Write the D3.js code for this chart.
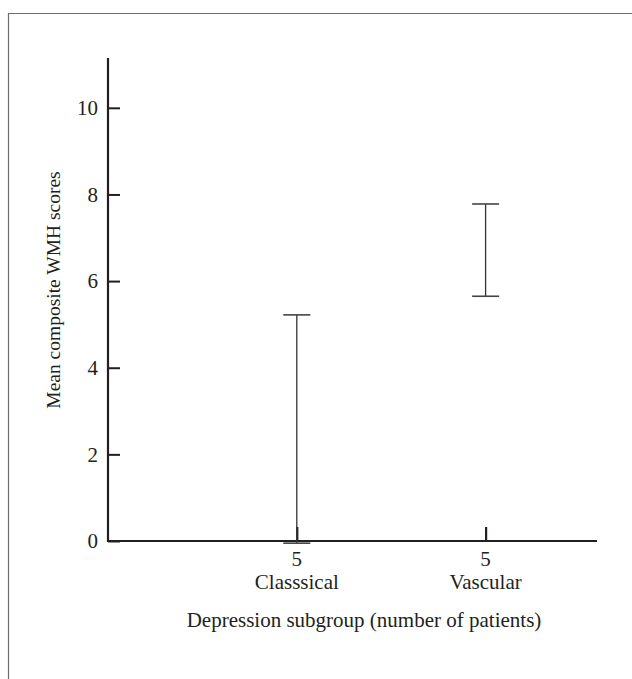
<!DOCTYPE html>
<html>
<head>
<meta charset="utf-8">
<script src="https://cdn.jsdelivr.net/npm/d3@7"></script>
<style>
  body { margin: 0; background: #fff; }
  text { font-family: "Liberation Serif", "DejaVu Serif", serif; fill: #231f20; }
</style>
</head>
<body>
<div id="chart"></div>
<script>
'use strict';

// Groups and their error bar ends
const groups = ["Classsical", "Vascular"];
const counts = ["5", "5"];
const lowerEnd = [-0.05, 5.65];
const upperEnd = [5.22, 7.78];
const yTicks = [0, 2, 4, 6, 8, 10];

const width = 632;
const height = 679;

const svg = d3.select("#chart").append("svg")
    .attr("width", width)
    .attr("height", height);

// frame round the figure (runs off the right and bottom)
svg.append("path")
    .attr("d", "M8.5,690V13.5H640")
    .attr("fill", "none")
    .attr("stroke", "#6d6d6d")
    .attr("stroke-width", 1.2);

const x = d3.scaleLinear().domain([0, 2.59]).range([108, 597]);
const y = d3.scaleLinear().domain([0, 11.15]).range([541, 58]);

const axisColor = "#231f20";

// y axis, ticks pointing inward
const yAxis = svg.append("g")
    .attr("transform", "translate(108,0)")
    .call(d3.axisRight(y).tickValues(yTicks).tickSize(12).tickFormat(""));
yAxis.select(".domain").remove();
yAxis.selectAll(".tick line").attr("stroke", axisColor).attr("stroke-width", 2);

svg.append("line")
    .attr("x1", 108).attr("x2", 108)
    .attr("y1", y.range()[1]).attr("y2", y(0) + 1)
    .attr("stroke", axisColor).attr("stroke-width", 2.2);

svg.selectAll(".ylab")
  .data(yTicks)
  .join("text")
    .attr("class", "ylab")
    .attr("x", 98)
    .attr("y", d => y(d))
    .attr("dy", "0.35em")
    .attr("text-anchor", "end")
    .style("font-size", "21px")
    .text(d => d);

// x axis
svg.append("line")
    .attr("x1", 107).attr("x2", x.range()[1])
    .attr("y1", y(0)).attr("y2", y(0))
    .attr("stroke", axisColor).attr("stroke-width", 2.2);

const xAxis = svg.append("g")
    .attr("transform", `translate(0,${y(0)})`)
    .call(d3.axisTop(x).tickValues([1, 2]).tickSize(14).tickFormat(""));
xAxis.select(".domain").remove();
xAxis.selectAll(".tick line").attr("stroke", axisColor).attr("stroke-width", 2.2);

// error bars
const bars = svg.selectAll(".bar")
  .data(groups)
  .join("g")
    .attr("class", "bar");

bars.append("line")
    .attr("x1", (d, i) => x(i + 1)).attr("x2", (d, i) => x(i + 1))
    .attr("y1", (d, i) => y(lowerEnd[i])).attr("y2", (d, i) => y(upperEnd[i]))
    .attr("stroke", "#333").attr("stroke-width", 1.3);

[upperEnd, lowerEnd].forEach(ends => {
  bars.append("line")
      .attr("x1", (d, i) => x(i + 1) - 13.5).attr("x2", (d, i) => x(i + 1) + 13.5)
      .attr("y1", (d, i) => y(ends[i])).attr("y2", (d, i) => y(ends[i]))
      .attr("stroke", "#444").attr("stroke-width", 1.6);
});

// category labels
svg.selectAll(".count")
  .data(counts)
  .join("text")
    .attr("x", (d, i) => x(i + 1))
    .attr("y", 566)
    .attr("text-anchor", "middle")
    .style("font-size", "21px")
    .text(d => d);

svg.selectAll(".group")
  .data(groups)
  .join("text")
    .attr("x", (d, i) => x(i + 1))
    .attr("y", 589)
    .attr("text-anchor", "middle")
    .style("font-size", "21px")
    .text(d => d);

svg.append("text")
    .attr("x", 364)
    .attr("y", 627)
    .attr("text-anchor", "middle")
    .style("font-size", "21px")
    .text("Depression subgroup (number of patients)");

svg.append("text")
    .attr("transform", "translate(60,290) rotate(-90)")
    .attr("text-anchor", "middle")
    .style("font-size", "19.5px")
    .text("Mean composite WMH scores");
</script>
</body>
</html>
